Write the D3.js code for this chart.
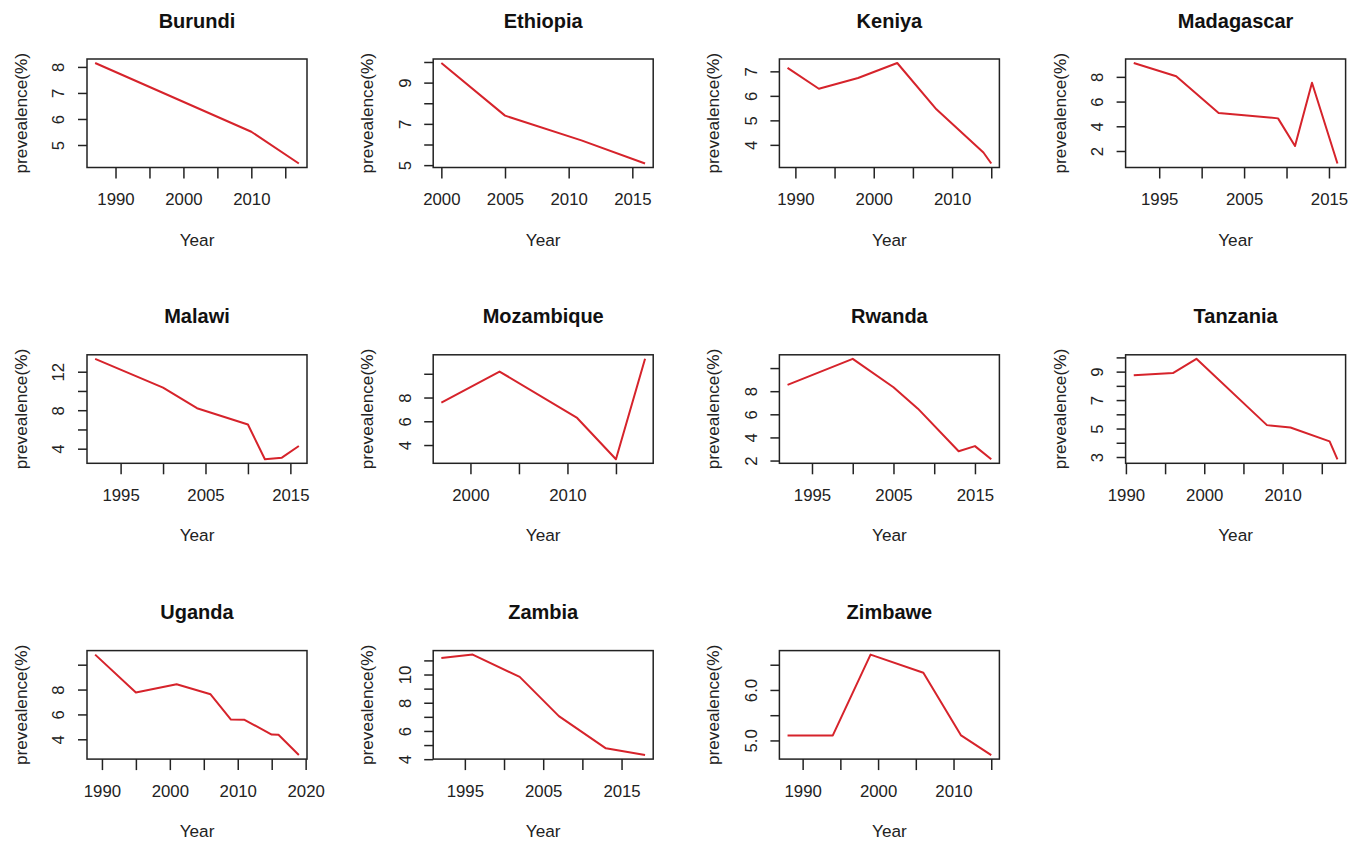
<!DOCTYPE html>
<html>
<head>
<meta charset="utf-8">
<script src="https://cdn.jsdelivr.net/npm/d3@7"></script>
<style>
  html, body { margin: 0; padding: 0; background: #ffffff; }
  svg { display: block; }
  text { font-family: "Liberation Sans", Arial, Helvetica, sans-serif; fill: #222; }
</style>
</head>
<body>
<svg id="chart" width="1365" height="847"></svg>
<script>
// ---- data ----
const countries = ["Burundi","Ethiopia","Keniya","Madagascar","Malawi","Mozambique","Rwanda","Tanzania","Uganda","Zambia","Zimbawe"];

const burundiYears = [1987, 2010, 2017];
const burundiPrev  = [8.15, 5.51, 4.29];

const ethiopiaYears = [2000, 2005, 2011, 2016];
const ethiopiaPrev  = [9.95, 7.40, 6.20, 5.08];

const keniyaYears = [1989, 1993, 1998, 2003, 2008, 2014, 2015];
const keniyaPrev  = [7.14, 6.29, 6.73, 7.34, 5.45, 3.69, 3.24];

const madagascarYears = [1992, 1997, 2002, 2005, 2009, 2011, 2013, 2016];
const madagascarPrev  = [9.12, 8.05, 5.07, 4.90, 4.64, 2.40, 7.52, 0.99];

const malawiYears = [1992, 2000, 2004, 2010, 2012, 2014, 2016];
const malawiPrev  = [13.34, 10.35, 8.21, 6.52, 2.90, 3.07, 4.28];

const mozambiqueYears = [1997, 2003, 2011, 2015, 2018];
const mozambiquePrev  = [7.58, 10.19, 6.28, 2.80, 11.26];

const rwandaYears = [1992, 2000, 2005, 2008, 2013, 2015, 2017];
const rwandaPrev  = [8.55, 10.80, 8.34, 6.49, 2.80, 3.25, 2.11];

const tanzaniaYears = [1991, 1996, 1999, 2008, 2011, 2016, 2017];
const tanzaniaPrev  = [8.74, 8.90, 9.90, 5.24, 5.07, 4.10, 2.84];

const ugandaYears = [1989, 1995, 2001, 2006, 2009, 2011, 2015, 2016, 2019];
const ugandaPrev  = [10.81, 7.76, 8.43, 7.62, 5.59, 5.57, 4.38, 4.36, 2.73];

const zambiaYears = [1992, 1996, 2002, 2007, 2013, 2018];
const zambiaPrev  = [11.17, 11.41, 9.83, 7.05, 4.77, 4.29];

const zimbaweYears = [1988, 1994, 1999, 2006, 2011, 2015];
const zimbawePrev  = [5.10, 5.10, 6.70, 6.34, 5.10, 4.71];

// tick values and which of them carry a label
const xTicks = [
  [1990,1995,2000,2005,2010,2015],
  [2000,2005,2010,2015],
  [1990,1995,2000,2005,2010,2015],
  [1995,2000,2005,2010,2015],
  [1995,2000,2005,2010,2015],
  [2000,2005,2010,2015],
  [1995,2000,2005,2010,2015],
  [1990,1995,2000,2005,2010,2015],
  [1990,1995,2000,2005,2010,2015,2020],
  [1995,2000,2005,2010,2015],
  [1990,1995,2000,2005,2010,2015]
];
const xLabels = [
  ["1990","","2000","","2010",""],
  ["2000","2005","2010","2015"],
  ["1990","","2000","","2010",""],
  ["1995","","2005","","2015"],
  ["1995","","2005","","2015"],
  ["2000","","2010",""],
  ["1995","","2005","","2015"],
  ["1990","","2000","","2010",""],
  ["1990","","2000","","2010","","2020"],
  ["1995","","2005","","2015"],
  ["1990","","2000","","2010",""]
];
const yTicks = [
  [5,6,7,8],
  [5,6,7,8,9,10],
  [4,5,6,7],
  [2,4,6,8],
  [4,6,8,10,12],
  [4,6,8,10],
  [2,4,6,8,10],
  [3,4,5,6,7,8,9,10],
  [4,6,8,10],
  [4,5,6,7,8,9,10,11],
  [5.0,5.5,6.0,6.5]
];
const yLabels = [
  ["5","6","7","8"],
  ["5","","7","","9",""],
  ["4","5","6","7"],
  ["2","4","6","8"],
  ["4","","8","","12"],
  ["4","6","8",""],
  ["2","4","6","8",""],
  ["3","","5","","7","","9",""],
  ["4","6","8",""],
  ["4","","6","","8","","10",""],
  ["5.0","","6.0",""]
];

const xTitle = "Year";
const yTitle = "prevealence(%)";

// ---- layout ----
const seriesYears = [burundiYears, ethiopiaYears, keniyaYears, madagascarYears, malawiYears, mozambiqueYears, rwandaYears, tanzaniaYears, ugandaYears, zambiaYears, zimbaweYears];
const seriesPrev  = [burundiPrev, ethiopiaPrev, keniyaPrev, madagascarPrev, malawiPrev, mozambiquePrev, rwandaPrev, tanzaniaPrev, ugandaPrev, zambiaPrev, zimbawePrev];

const svg = d3.select("#chart");
const plotW = 220, plotH = 108.5;
const colStep = 346.2, rowStep = 295.8;
const left0 = 87, top0 = 59;
const lineColor = "#d6232b";

function padded(ext) {
  const s = ext[1] - ext[0];
  return [ext[0] - 0.04 * s, ext[1] + 0.04 * s];
}

countries.forEach((name, i) => {
  const col = i % 4, row = Math.floor(i / 4);
  const L = left0 + col * colStep, T = top0 + row * rowStep;
  const years = seriesYears[i], prev = seriesPrev[i];
  const data = years.map((y, k) => ({year: y, v: prev[k]}));

  const x = d3.scaleLinear().domain(padded(d3.extent(years))).range([L, L + plotW]);
  const y = d3.scaleLinear().domain(padded(d3.extent(prev))).range([T + plotH, T]);

  const g = svg.append("g");

  // line
  g.append("path")
    .datum(data)
    .attr("fill", "none")
    .attr("stroke", lineColor)
    .attr("stroke-width", 2)
    .attr("stroke-linejoin", "round")
    .attr("d", d3.line().x(d => x(d.year)).y(d => y(d.v)));

  // box
  g.append("rect")
    .attr("x", L).attr("y", T).attr("width", plotW).attr("height", plotH)
    .attr("fill", "none").attr("stroke", "#222").attr("stroke-width", 1.5);

  // x axis
  const xl = xLabels[i];
  const xa = g.append("g")
    .attr("transform", `translate(0,${T + plotH})`)
    .call(d3.axisBottom(x).tickValues(xTicks[i]).tickSize(11)
      .tickFormat((d, k) => xl[k]));
  xa.select(".domain").remove();
  xa.selectAll(".tick line").attr("stroke", "#222").attr("stroke-width", 1.5);
  xa.selectAll(".tick text")
    .attr("y", 32).attr("dy", "0.35em")
    .style("font-size", "16.8px").style("fill", "#222")
    .style("font-family", "'Liberation Sans', Arial, sans-serif");

  // y axis
  const yl = yLabels[i];
  const ya = g.append("g")
    .attr("transform", `translate(${L},0)`)
    .call(d3.axisLeft(y).tickValues(yTicks[i]).tickSize(9)
      .tickFormat((d, k) => yl[k]));
  ya.select(".domain").remove();
  ya.selectAll(".tick line").attr("stroke", "#222").attr("stroke-width", 1.5);
  ya.selectAll(".tick text")
    .attr("x", 0).attr("y", 0).attr("dy", "0.35em")
    .attr("text-anchor", "middle")
    .attr("transform", "translate(-28.5,0) rotate(-90)")
    .style("font-size", "16.8px").style("fill", "#222")
    .style("font-family", "'Liberation Sans', Arial, sans-serif");

  // titles
  g.append("text")
    .attr("x", L + plotW / 2).attr("y", T - 38.5).attr("dy", "0.35em")
    .attr("text-anchor", "middle")
    .style("font-size", "20px").style("font-weight", "bold").style("fill", "#111")
    .text(name);

  g.append("text")
    .attr("x", L + plotW / 2).attr("y", T + plotH + 72).attr("dy", "0.35em")
    .attr("text-anchor", "middle")
    .style("font-size", "17.2px")
    .text(xTitle);

  g.append("text")
    .attr("transform", `translate(${L - 66},${T + plotH / 2}) rotate(-90)`)
    .attr("dy", "0.35em")
    .attr("text-anchor", "middle")
    .style("font-size", "17.2px")
    .text(yTitle);
});
</script>
</body>
</html>
